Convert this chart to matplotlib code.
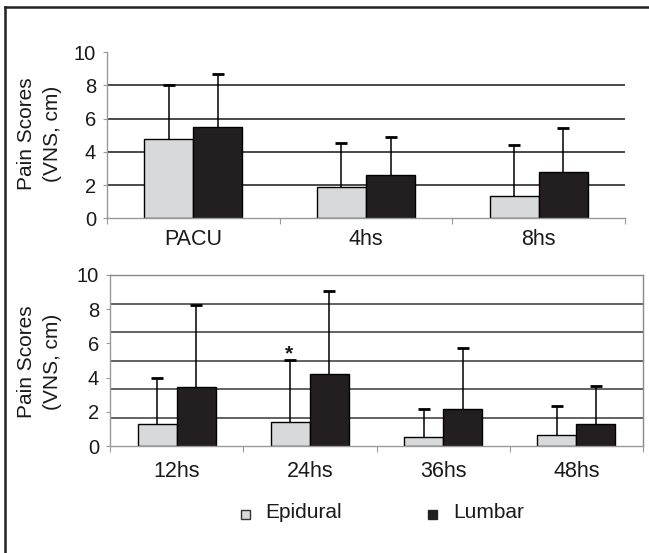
import matplotlib
matplotlib.use("Agg")
import matplotlib.pyplot as plt
import numpy as np
from matplotlib.lines import Line2D
from matplotlib.patches import Rectangle

plt.rcParams['font.family'] = ['Liberation Sans', 'DejaVu Sans']

# ---- data ----
top_categories = ["PACU", "4hs", "8hs"]
top_epidural = [4.75, 1.9, 1.36]
top_epidural_err = [3.27, 2.65, 3.05]
top_lumbar = [5.53, 2.62, 2.77]
top_lumbar_err = [3.15, 2.29, 2.68]

bot_categories = ["12hs", "24hs", "36hs", "48hs"]
bot_epidural = [1.29, 1.42, 0.53, 0.63]
bot_epidural_err = [2.67, 3.61, 1.65, 1.73]
bot_lumbar = [3.43, 4.23, 2.18, 1.29]
bot_lumbar_err = [4.82, 4.85, 3.53, 2.22]

ytick_values = [0, 2, 4, 6, 8, 10]
ytick_labels = ["0", "2", "4", "6", "8", "10"]
series_names = ["Epidural", "Lumbar"]
ylabel_lines = ["Pain Scores", "(VNS, cm)"]
significant = [(1, 0)]  # (category index in bottom panel, series 0=epidural)

EPI_COLOR = "#d8d9db"
LUM_COLOR = "#231f20"
TXT = "#1a1a1a"
FS_Y = 14.5
FS_X = 15.5

W, H = 649, 553
fig = plt.figure(figsize=(W / 100, H / 100), dpi=100)

def px_axes(left, right, top, bottom):
    return fig.add_axes([left / W, 1 - bottom / H, (right - left) / W, (bottom - top) / H])

ax1 = px_axes(107, 625, 52.3, 218.3)
ax2 = px_axes(110, 643, 275, 446)


def upward_err(ax, xs, ys, errs):
    xs = np.asarray(xs); ys = np.asarray(ys); errs = np.asarray(errs)
    ax.errorbar(xs, ys, yerr=[np.zeros(len(ys)), errs], fmt="none", ecolor="black",
                elinewidth=1.1, capsize=0, zorder=2)
    ax.plot(xs, ys + errs, ls="none", marker="_", ms=8, mew=2.0, color="black", zorder=2)


def draw_panel(ax, cats, epi, epi_err, lum, lum_err, bw, grid_levels, box, xpad, gcolor):
    n = len(cats)
    x = np.arange(n) + 0.5
    ax.bar(x - bw / 2, epi, bw, color=EPI_COLOR, edgecolor="black", lw=1.0, zorder=3)
    ax.bar(x + bw / 2, lum, bw, color=LUM_COLOR, edgecolor="black", lw=1.0, zorder=3)
    upward_err(ax, x - bw / 2, epi, epi_err)
    upward_err(ax, x + bw / 2, lum, lum_err)
    for g in grid_levels:
        ax.axhline(g, color=gcolor, lw=1.3, zorder=1)
    ax.set_xlim(0, n)
    ax.set_ylim(0, 10)
    ax.set_xticks(np.arange(n + 1))
    ax.set_xticklabels([])
    ax.set_xticks(x, minor=True)
    ax.set_xticklabels(cats, minor=True, fontsize=FS_X, color=TXT)
    ax.tick_params(axis="x", which="major", length=4, color="#999999", direction="out")
    ax.tick_params(axis="x", which="minor", length=0, pad=xpad)
    ax.set_yticks(ytick_values)
    ax.set_yticklabels(ytick_labels, fontsize=FS_Y, color=TXT)
    ax.tick_params(axis="y", length=3, color="#999999", pad=5)
    for s in ["left", "bottom"]:
        ax.spines[s].set_color("#999999")
        ax.spines[s].set_linewidth(1.0)
    ax.spines["bottom"].set_zorder(4)
    if box:
        for s in ["right", "top"]:
            ax.spines[s].set_color("#888888")
            ax.spines[s].set_linewidth(1.0)
    else:
        ax.spines["right"].set_visible(False)
        ax.spines["top"].set_visible(False)
    ax.set_facecolor("none")
    return x


draw_panel(ax1, top_categories, top_epidural, top_epidural_err, top_lumbar, top_lumbar_err,
           0.284, [2, 4, 6, 8], box=False, xpad=8, gcolor="#3a3a3a")
xb = draw_panel(ax2, bot_categories, bot_epidural, bot_epidural_err, bot_lumbar, bot_lumbar_err,
                0.293, list(np.linspace(0, 10, 7))[1:-1], box=True, xpad=11, gcolor="#555555")

# y-axis titles (two lines, placed separately)
for yc in (134, 362):
    for xc, line in zip((27, 52), ylabel_lines):
        fig.text(xc / W, 1 - yc / H, line, rotation=90, ha="center", va="center",
                 fontsize=15, color=TXT)

for ci, si in significant:
    vals = bot_epidural if si == 0 else bot_lumbar
    errs = bot_epidural_err if si == 0 else bot_lumbar_err
    xpos = xb[ci] + (-0.293 / 2 if si == 0 else 0.293 / 2)
    ax2.text(xpos - 0.01, vals[ci] + errs[ci] + 0.35, "*", ha="center", va="center",
             fontsize=15, fontweight="bold", color=TXT)

# legend
fig.add_artist(Rectangle(((245 - 4.5) / W, 1 - (514 + 4.5) / H), 9 / W, 9 / H,
                         facecolor=EPI_COLOR, edgecolor="#333333", lw=1.0))
fig.text(265 / W, 1 - 512 / H, series_names[0], fontsize=15, va="center", ha="left", color=TXT)
fig.add_artist(Rectangle(((432 - 4.5) / W, 1 - (514 + 4.5) / H), 9 / W, 9 / H,
                         facecolor=LUM_COLOR, edgecolor="#222222", lw=1.0))
fig.text(453 / W, 1 - 512 / H, series_names[1], fontsize=15, va="center", ha="left", color=TXT)

# outer frame (left and top edges visible)
fig.add_artist(Line2D([4.5 / W, 4.5 / W], [0, 1 - 7 / H], color="#222222", lw=1.8))
fig.add_artist(Line2D([4.5 / W, 1], [1 - 7 / H, 1 - 7 / H], color="#222222", lw=1.8))

fig.savefig("out.png", dpi=100)
